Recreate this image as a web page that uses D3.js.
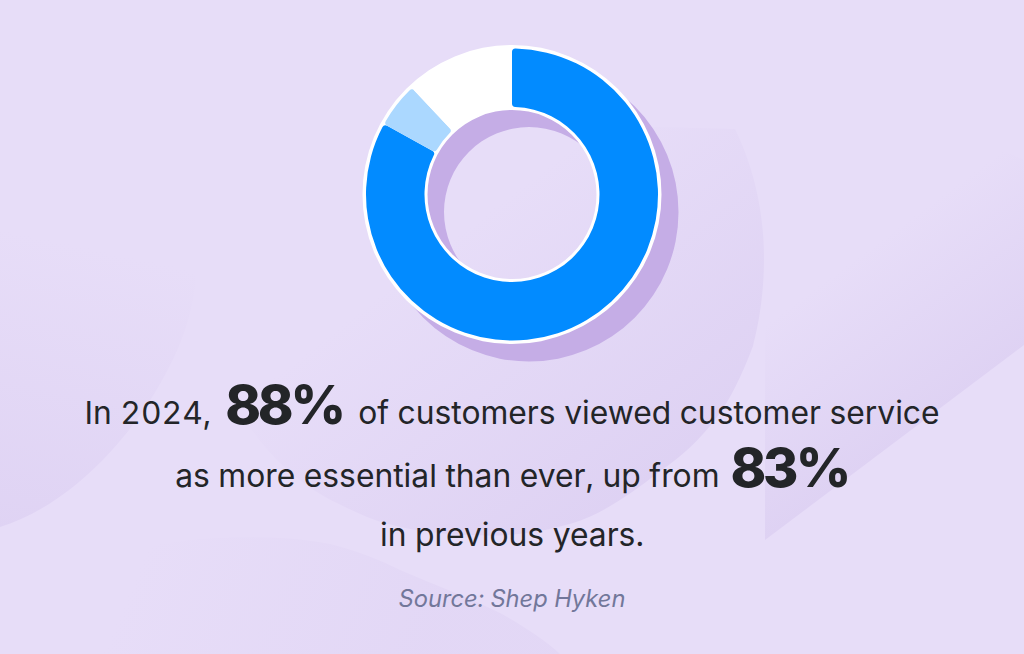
<!DOCTYPE html>
<html>
<head>
<meta charset="utf-8">
<script src="https://cdn.jsdelivr.net/npm/d3@7"></script>
<style>
  html, body { margin: 0; padding: 0; background: #e7ddf8; overflow: hidden; }
  text { font-family: Inter, "Noto Sans", sans-serif; fill: #232528; font-feature-settings: "tnum"; }
  .big { font-size: 54px; font-weight: 800; letter-spacing: -2.5px; }
  .source { font-size: 23.7px; font-style: italic; fill: #72779a; }
</style>
</head>
<body>
<div id="chart"></div>
<script>
// Chart data
var categories = ["Essential, up to previous years", "Added in 2024", "Other customers"];
var shares = [83, 5, 12];
var sliceColors = ["#028bff", "#abd8ff", "#ffffff"];

// Headline lines, big = the percentages printed in the picture
var headline = [
  [{ t: "In 2024, " }, { t: "88%", big: true, dx: 6 }, { t: " of customers viewed customer service", dx: 6 }],
  [{ t: "as more essential than ever, up from " }, { t: "83%", big: true, dx: 3 }],
  [{ t: "in previous years." }]
];
var sourceLabel = "Source: Shep Hyken";

// Define SVG area dimensions
var svgWidth = 1024;
var svgHeight = 654;

var svg = d3.select("#chart")
  .append("svg")
  .attr("width", svgWidth)
  .attr("height", svgHeight)
  .style("display", "block");

svg.append("rect")
  .attr("width", svgWidth)
  .attr("height", svgHeight)
  .attr("fill", "#e7ddf8");

// Soft shapes behind the chart, each one fades out towards its top
var bgShapes = [
  { id: "bgLeft", grad: [100, 250, 40, 530], top: 0.7,
    d: "M0,527 C70,505 130,440 165,375 C190,330 197,290 197,257 L197,200 L0,200 Z" },
  { id: "bgMiddle", grad: [400, 280, 600, 540], top: 0.85,
    d: "M735,129 C755,170 764,215 764,258 C764,300 757,330 753,346 C742,375 730,400 717,417 C700,440 680,458 660,471 C630,495 600,515 573,523 C540,533 505,537 470,535 C430,534 395,528 367,517 C340,505 318,495 300,480 C280,465 262,445 250,427 L400,120 Z" },
  { id: "bgRight", grad: [840, 270, 950, 420], top: 0.85,
    d: "M765,540 L1024,345 L1024,160 L990,145 L765,280 Z" },
  { id: "bgBottom", grad: [150, 540, 420, 654], top: 0.4,
    d: "M60,654 L60,617 C62,598 68,580 77,567 C120,550 170,540 217,538 C260,536 300,538 330,544 C355,550 380,560 400,570 C435,585 470,598 500,613 C525,627 545,640 560,654 Z" }
];

var defs = svg.append("defs");
bgShapes.forEach(function(shape) {
  var grad = defs.append("linearGradient")
    .attr("id", shape.id)
    .attr("gradientUnits", "userSpaceOnUse")
    .attr("x1", shape.grad[0]).attr("y1", shape.grad[1])
    .attr("x2", shape.grad[2]).attr("y2", shape.grad[3]);
  grad.append("stop").attr("offset", 0).attr("stop-color", "#dccff2").attr("stop-opacity", 0);
  grad.append("stop").attr("offset", 1).attr("stop-color", "#dccff2").attr("stop-opacity", shape.top);
});

svg.selectAll("path.bg")
  .data(bgShapes)
  .enter()
  .append("path")
  .attr("class", "bg")
  .attr("d", function(d) { return d.d; })
  .attr("fill", function(d) { return "url(#" + d.id + ")"; });

// Donut
var center = { x: 512, y: 194.5 };
var pie = d3.pie().sort(null)(shares);
var sliceArc = d3.arc().innerRadius(87.5).outerRadius(146).cornerRadius(3.5);
var whiteRing = d3.arc().innerRadius(84.5).outerRadius(149.5).startAngle(0).endAngle(2 * Math.PI);
var shadowRing = d3.arc().innerRadius(85).outerRadius(149.5).startAngle(0).endAngle(2 * Math.PI);

svg.append("path")
  .attr("transform", "translate(" + (center.x + 17) + "," + (center.y + 17.5) + ")")
  .attr("d", shadowRing())
  .attr("fill", "#c5ade6");

var donut = svg.append("g")
  .attr("transform", "translate(" + center.x + "," + center.y + ")");

donut.append("path")
  .attr("d", whiteRing())
  .attr("fill", "#ffffff");

donut.selectAll("path.slice")
  .data(pie)
  .enter()
  .append("path")
  .attr("class", "slice")
  .attr("d", sliceArc)
  .attr("fill", function(d, i) { return sliceColors[i]; })
  .append("title")
  .text(function(d, i) { return categories[i]; });

// Headline text
var baselines = [424, 486.5, 546];
headline.forEach(function(line, i) {
  var row = svg.append("text")
    .attr("x", svgWidth / 2)
    .attr("y", baselines[i])
    .attr("text-anchor", "middle")
    .attr("font-size", "31.8px")
    .attr("xml:space", "preserve");
  line.forEach(function(part) {
    row.append("tspan")
      .attr("class", part.big ? "big" : null)
      .attr("dx", part.dx || null)
      .text(part.t);
  });
});

svg.append("text")
  .attr("class", "source")
  .attr("x", svgWidth / 2)
  .attr("y", 606.5)
  .attr("text-anchor", "middle")
  .text(sourceLabel);
</script>
</body>
</html>
